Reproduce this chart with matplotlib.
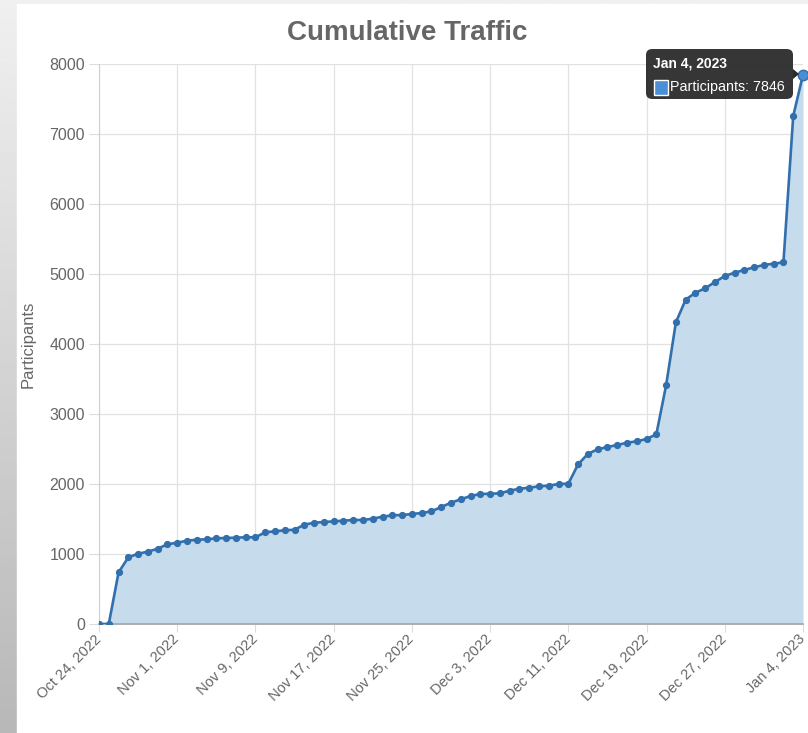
import numpy as np
import pandas as pd
import matplotlib.pyplot as plt
from matplotlib.patches import FancyBboxPatch, Rectangle, Polygon
from matplotlib.transforms import ScaledTranslation

plt.rcParams['font.family'] = ['Liberation Sans', 'DejaVu Sans']

# daily cumulative participants, Oct 24 2022 .. Jan 4 2023
start_date = "2022-10-24"
participants = [
    0, 0, 736, 953, 1004, 1033, 1076, 1139, 1161, 1190,
    1204, 1210, 1224, 1229, 1233, 1239, 1239, 1310, 1324, 1339,
    1347, 1419, 1447, 1457, 1466, 1476, 1486, 1486, 1504, 1533,
    1553, 1557, 1571, 1586, 1610, 1671, 1733, 1781, 1829, 1857,
    1861, 1867, 1904, 1933, 1947, 1967, 1976, 2000, 2004, 2281,
    2430, 2496, 2529, 2557, 2590, 2610, 2643, 2710, 3410, 4310,
    4633, 4733, 4796, 4886, 4971, 5019, 5057, 5096, 5129, 5147,
    5167, 7257, 7846,
]
tick_labels = ["Oct 24, 2022", "Nov 1, 2022", "Nov 9, 2022", "Nov 17, 2022",
               "Nov 25, 2022", "Dec 3, 2022", "Dec 11, 2022", "Dec 19, 2022",
               "Dec 27, 2022", "Jan 4, 2023"]
y_ticks = [0, 1000, 2000, 3000, 4000, 5000, 6000, 7000, 8000]

dates = pd.date_range(start_date, periods=len(participants), freq="D")
x = np.arange(len(dates))
tick_pos = x[::8]

line_col = "#3170ad"
fill_col = "#c6dbeb"
grey = "#666666"

fig = plt.figure(figsize=(8.08, 7.33), dpi=100)

# page background: grey gradient strip behind the white chart canvas
bg = fig.add_axes([0, 0, 1, 1], zorder=-10)
grad = np.linspace(0.94, 0.72, 256).reshape(-1, 1)
bg.imshow(grad, cmap="gray", vmin=0, vmax=1, aspect="auto", extent=[0, 1, 0, 1])
bg.add_patch(Rectangle((17 / 808, 0), 1, 1 - 4 / 733, color="white"))
bg.set_xlim(0, 1)
bg.set_ylim(0, 1)
bg.axis("off")

ax = fig.add_axes([99 / 808, 1 - 624 / 733, 704 / 808, 560 / 733])
ax.fill_between(x, participants, 0, color=fill_col, lw=0, zorder=1)
ax.plot(x, participants, color=line_col, lw=1.9, marker="o", ms=4.2,
        mec=line_col, zorder=3)
ax.plot(x[-1], participants[-1], "o", ms=7.5, color="#4a8ed4",
        mec="#3170ad", mew=1, clip_on=False, zorder=4)

ax.set_xlim(x[0], x[-1])
ax.set_ylim(0, 8000)
ax.set_yticks(y_ticks)
ax.set_yticklabels([str(v) for v in y_ticks], fontsize=11.5, color=grey)
ax.set_xticks(tick_pos)
ax.set_xticklabels([])
# slanted date labels, top-right corner just below each tick
shift = ScaledTranslation(-5 / 100, -8 / 100, fig.dpi_scale_trans)
for pos, lab in zip(tick_pos, tick_labels):
    ax.text(pos, 0, lab, transform=ax.get_xaxis_transform() + shift,
            rotation=45, ha="right", va="top", rotation_mode="anchor",
            fontsize=10.5, color=grey, clip_on=False)
ax.grid(True, color="#e2e2e2", lw=0.9, zorder=0)
ax.set_axisbelow(True)
ax.tick_params(axis="y", length=7, color="#dcdcdc", pad=3)
ax.tick_params(axis="x", length=6, color="#dcdcdc", pad=1)
for side in ("top", "right"):
    ax.spines[side].set_visible(False)
ax.spines["left"].set_color("#cfcfcf")
ax.spines["bottom"].set_color("#a9a9a9")
ax.spines["bottom"].set_linewidth(1.3)
ax.set_ylabel("Participants", fontsize=12, color=grey, labelpad=10)

fig.text(407 / 808, 1 - 33 / 733, "Cumulative Traffic", ha="center", va="center",
         fontsize=20, fontweight="bold", color=grey)

# tooltip for the last point
tip = FancyBboxPatch((646 / 808, 1 - 99 / 733), 147 / 808, 50 / 733,
                     boxstyle="round,pad=0,rounding_size=0.008",
                     transform=fig.transFigure, fc="#2b2b2b", ec="none", alpha=0.95)
fig.patches.append(tip)
fig.patches.append(Polygon([[793 / 808, 1 - 69 / 733], [799 / 808, 1 - 74 / 733],
                            [793 / 808, 1 - 79 / 733]], closed=True,
                           transform=fig.transFigure, fc="#2b2b2b", ec="none"))
fig.patches.append(Rectangle((654 / 808, 1 - 95 / 733), 14 / 808, 15 / 733,
                             transform=fig.transFigure, fc="#4a8ed4", ec="white", lw=1))
fig.text(653 / 808, 1 - 63 / 733, f"{dates[-1].strftime('%b')} {dates[-1].day}, {dates[-1].year}",
         ha="left", va="center", fontsize=10, fontweight="bold", color="white")
fig.text(670 / 808, 1 - 87 / 733, f"Participants: {participants[-1]}",
         ha="left", va="center", fontsize=10.3, color="white")

fig.savefig("out.png", dpi=100)
